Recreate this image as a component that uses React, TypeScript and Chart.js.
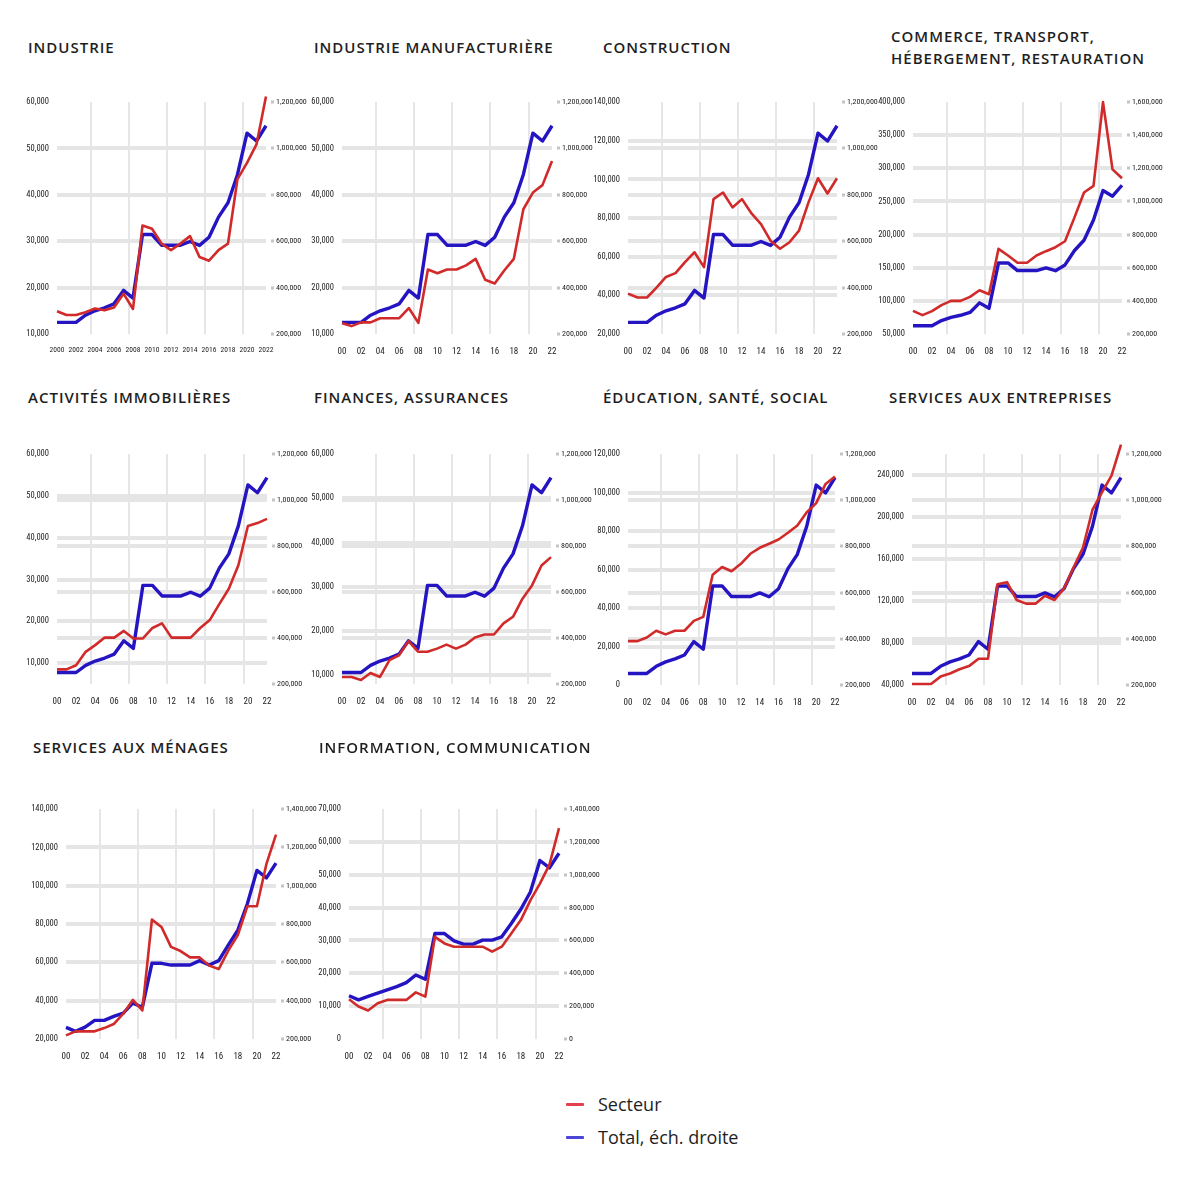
import React, { useEffect, useRef } from "react";
import { Chart, registerables } from "chart.js";

Chart.register(...registerables);

const YEARS = [2000, 2001, 2002, 2003, 2004, 2005, 2006, 2007, 2008, 2009, 2010, 2011, 2012, 2013, 2014, 2015, 2016, 2017, 2018, 2019, 2020, 2021, 2022];
const TICK_YEARS = [2000, 2002, 2004, 2006, 2008, 2010, 2012, 2014, 2016, 2018, 2020, 2022];
const VGRID_YEARS = [2003.55, 2007.55, 2011.55, 2015.55, 2019.55];

// Total (right scale), as read in each group of panels
const TOTAL = [250000, 250000, 250000, 281000, 300000, 313000, 330000, 388000, 355000, 629000, 629000, 583000, 583000, 583000, 599000, 582000, 617000, 704000, 766000, 888000, 1066000, 1032000, 1098000];
const TOTAL_MENAGES = [261000, 240000, 262000, 297000, 297000, 318000, 335000, 387000, 366000, 595000, 595000, 586000, 586000, 586000, 609000, 586000, 609000, 690000, 768000, 906000, 1080000, 1041000, 1118000];
const TOTAL_INFO = [263000, 238000, 259000, 279000, 299000, 319000, 343000, 390000, 364000, 642000, 642000, 598000, 578000, 578000, 602000, 602000, 622000, 703000, 790000, 895000, 1087000, 1042000, 1131000];

// Secteur (left scale)
const INDUSTRIE = [14900, 14100, 14100, 14700, 15500, 15100, 15700, 18700, 15400, 33400, 32700, 29500, 28100, 29500, 31100, 26600, 25800, 28100, 29500, 43400, 46900, 50900, 61200];
const MANUFACTURIERE = [12300, 11700, 12500, 12500, 13400, 13400, 13400, 15600, 12400, 23900, 23100, 23900, 23900, 24800, 26200, 21700, 20900, 23700, 26200, 36900, 40500, 42100, 47300];
const CONSTRUCTION = [40900, 38900, 38900, 44000, 49500, 51500, 57200, 62300, 54600, 89800, 93200, 85500, 89800, 82400, 76900, 68300, 64100, 67500, 73500, 88100, 100600, 92700, 100600];
const COMMERCE = [85000, 78500, 84500, 93500, 100000, 100000, 106000, 116000, 110000, 178500, 168500, 157500, 157500, 168500, 175000, 181000, 190000, 226000, 263500, 273500, 400000, 298500, 285000];
const IMMOBILIER = [8500, 8500, 9500, 12700, 14300, 16100, 16100, 17700, 15900, 15900, 18400, 19500, 16100, 16100, 16100, 18400, 20300, 24100, 27800, 33400, 42800, 43500, 44500];
const FINANCES = [9600, 9600, 8900, 10500, 9600, 13400, 14500, 17700, 15300, 15300, 16000, 16900, 16000, 16900, 18500, 19200, 19200, 21700, 23200, 27300, 30300, 34800, 36700];
const EDUCATION = [22800, 22800, 24700, 28200, 26300, 28200, 28200, 33300, 35400, 57300, 61300, 59100, 63000, 68200, 71300, 73400, 75600, 79100, 82900, 89800, 94500, 104500, 108300];
const ENTREPRISES = [41000, 41000, 41000, 48000, 51000, 55000, 58000, 65000, 65000, 136000, 138000, 121000, 117500, 117500, 125000, 121000, 132000, 152000, 171000, 207000, 223500, 239500, 269000];
const MENAGES = [21900, 24000, 24000, 24000, 25700, 27800, 33200, 40400, 34900, 82300, 78500, 68100, 65900, 62600, 62600, 58300, 56500, 66100, 74200, 89300, 89300, 111400, 126700];
const INFORMATION = [12100, 9900, 8700, 10900, 11900, 11900, 11900, 14200, 12900, 31100, 29100, 28100, 28100, 28100, 28100, 26600, 28100, 32100, 36200, 42200, 47300, 53100, 64200];

// Tick values
const L_10_60 = [10000, 20000, 30000, 40000, 50000, 60000];
const L_20_140 = [20000, 40000, 60000, 80000, 100000, 120000, 140000];
const L_50_400 = [50000, 100000, 150000, 200000, 250000, 300000, 350000, 400000];
const L_0_120 = [0, 20000, 40000, 60000, 80000, 100000, 120000];
const L_40_240 = [40000, 80000, 120000, 160000, 200000, 240000];
const L_0_70 = [0, 10000, 20000, 30000, 40000, 50000, 60000, 70000];
const R_200_1200 = [200000, 400000, 600000, 800000, 1000000, 1200000];
const R_200_1600 = [200000, 400000, 600000, 800000, 1000000, 1200000, 1400000, 1600000];
const R_200_1400 = [200000, 400000, 600000, 800000, 1000000, 1200000, 1400000];
const R_0_1400 = [0, 200000, 400000, 600000, 800000, 1000000, 1200000, 1400000];

const RED = "#d12a2a";
const BLUE = "#2414c2";
const TICK_COLOR = "#222";
const TICK_FONT = "'Roboto Condensed', 'Liberation Sans Narrow', sans-serif";
const TITLE_FONT = "'Open Sans', 'Noto Sans', sans-serif";

type PanelDef = {
  title: string[];
  tx: number;
  ty: number;
  L: number;
  R: number;
  T: number;
  B: number;
  sector: number[];
  total: number[];
  yMin: number;
  yMax: number;
  yTicks: number[];
  rMin: number;
  rMax: number;
  rTicks: number[];
  fullYears?: boolean;
};

const PANELS: PanelDef[] = [
  { title: ["INDUSTRIE"], tx: 28, ty: 47, L: 57, R: 266, T: 101, B: 334, sector: INDUSTRIE, total: TOTAL, yMin: 10000, yMax: 60000, yTicks: L_10_60, rMin: 200000, rMax: 1200000, rTicks: R_200_1200, fullYears: true },
  { title: ["INDUSTRIE MANUFACTURIÈRE"], tx: 314, ty: 47, L: 342, R: 552, T: 101, B: 334, sector: MANUFACTURIERE, total: TOTAL, yMin: 10000, yMax: 60000, yTicks: L_10_60, rMin: 200000, rMax: 1200000, rTicks: R_200_1200 },
  { title: ["CONSTRUCTION"], tx: 603, ty: 47, L: 628, R: 837, T: 101, B: 334, sector: CONSTRUCTION, total: TOTAL, yMin: 20000, yMax: 140000, yTicks: L_20_140, rMin: 200000, rMax: 1200000, rTicks: R_200_1200 },
  { title: ["COMMERCE, TRANSPORT,", "HÉBERGEMENT, RESTAURATION"], tx: 891, ty: 36, L: 913, R: 1122, T: 101, B: 334, sector: COMMERCE, total: TOTAL, yMin: 50000, yMax: 400000, yTicks: L_50_400, rMin: 200000, rMax: 1600000, rTicks: R_200_1600 },
  { title: ["ACTIVITÉS IMMOBILIÈRES"], tx: 28, ty: 397, L: 57, R: 267, T: 453, B: 684, sector: IMMOBILIER, total: TOTAL, yMin: 5000, yMax: 60000, yTicks: L_10_60, rMin: 200000, rMax: 1200000, rTicks: R_200_1200 },
  { title: ["FINANCES, ASSURANCES"], tx: 314, ty: 397, L: 342, R: 551, T: 453, B: 684, sector: FINANCES, total: TOTAL, yMin: 8000, yMax: 60000, yTicks: L_10_60, rMin: 200000, rMax: 1200000, rTicks: R_200_1200 },
  { title: ["ÉDUCATION, SANTÉ, SOCIAL"], tx: 603, ty: 397, L: 628, R: 835, T: 453, B: 685, sector: EDUCATION, total: TOTAL, yMin: 0, yMax: 120000, yTicks: L_0_120, rMin: 200000, rMax: 1200000, rTicks: R_200_1200 },
  { title: ["SERVICES AUX ENTREPRISES"], tx: 889, ty: 397, L: 912, R: 1121, T: 453, B: 685, sector: ENTREPRISES, total: TOTAL, yMin: 40000, yMax: 260000, yTicks: L_40_240, rMin: 200000, rMax: 1200000, rTicks: R_200_1200 },
  { title: ["SERVICES AUX MÉNAGES"], tx: 33, ty: 747, L: 66, R: 276, T: 808, B: 1039, sector: MENAGES, total: TOTAL_MENAGES, yMin: 20000, yMax: 140000, yTicks: L_20_140, rMin: 200000, rMax: 1400000, rTicks: R_200_1400 },
  { title: ["INFORMATION, COMMUNICATION"], tx: 319, ty: 747, L: 349, R: 559, T: 808, B: 1039, sector: INFORMATION, total: TOTAL_INFO, yMin: 0, yMax: 70000, yTicks: L_0_70, rMin: 0, rMax: 1400000, rTicks: R_0_1400 },
];

const LW = 40;
const RW = 46;
const TOP = 12;
const XH = 22;

const fmt = (v: number) => Number(v).toLocaleString("en-US");

function Panel({ p }: { p: PanelDef }) {
  const ref = useRef<HTMLCanvasElement | null>(null);
  const plotW = p.R - p.L;
  const plotH = p.B - p.T;
  const cw = LW + plotW + RW;
  const ch = TOP + plotH + XH;

  useEffect(() => {
    if (!ref.current) return;
    const gridColor = (min: number, max: number) => (ctx: any) => {
      const v = ctx.tick ? ctx.tick.value : null;
      return v === min || v === max ? "rgba(0,0,0,0)" : "#e5e5e5";
    };
    const chart = new Chart(ref.current, {
      type: "line",
      data: {
        datasets: [
          {
            label: "Secteur",
            data: p.sector.map((v, i) => ({ x: YEARS[i], y: v })),
            yAxisID: "y",
            xAxisID: "x",
            borderColor: RED,
            backgroundColor: RED,
            borderWidth: 2.6,
            pointRadius: 0,
            tension: 0,
            clip: false,
            borderJoinStyle: "round",
          },
          {
            label: "Total, éch. droite",
            data: p.total.map((v, i) => ({ x: YEARS[i], y: v })),
            yAxisID: "y1",
            xAxisID: "x",
            borderColor: BLUE,
            backgroundColor: BLUE,
            borderWidth: 3.4,
            pointRadius: 0,
            tension: 0,
            clip: false,
            borderJoinStyle: "round",
          },
        ],
      },
      options: {
        animation: false,
        responsive: false,
        events: [],
        layout: { padding: { top: TOP, left: 0, right: 0, bottom: 0 } },
        plugins: { legend: { display: false }, tooltip: { enabled: false }, title: { display: false } },
        scales: {
          x: {
            type: "linear",
            position: "bottom",
            min: 2000,
            max: 2022,
            afterBuildTicks: (s: any) => {
              s.ticks = TICK_YEARS.map((v) => ({ value: v }));
            },
            afterFit: (s: any) => {
              s.height = XH;
            },
            grid: { display: false },
            border: { display: false },
            ticks: {
              autoSkip: false,
              maxRotation: 0,
              padding: 4,
              color: TICK_COLOR,
              font: { family: TICK_FONT, size: p.fullYears ? 7.5 : 9 },
              callback: (v: any) => (p.fullYears ? String(v) : String(v).slice(2)),
            },
          },
          xg: {
            type: "linear",
            position: "top",
            min: 2000,
            max: 2022,
            afterBuildTicks: (s: any) => {
              s.ticks = VGRID_YEARS.map((v) => ({ value: v }));
            },
            afterFit: (s: any) => {
              s.height = 0;
            },
            grid: { color: "#e6e6e6", lineWidth: 2, drawTicks: false },
            border: { display: false },
            ticks: { display: false },
          },
          y: {
            type: "linear",
            position: "left",
            min: p.yMin,
            max: p.yMax,
            afterBuildTicks: (s: any) => {
              s.ticks = p.yTicks.map((v) => ({ value: v }));
            },
            afterFit: (s: any) => {
              s.width = LW;
            },
            grid: { color: gridColor(p.yMin, p.yMax), lineWidth: 4, drawTicks: false },
            border: { display: false },
            ticks: {
              padding: 8,
              color: TICK_COLOR,
              font: { family: TICK_FONT, size: 8.5 },
              callback: (v: any) => fmt(v),
            },
          },
          y1: {
            type: "linear",
            position: "right",
            min: p.rMin,
            max: p.rMax,
            afterBuildTicks: (s: any) => {
              s.ticks = p.rTicks.map((v) => ({ value: v }));
            },
            afterFit: (s: any) => {
              s.width = RW;
            },
            grid: {
              color: gridColor(p.rMin, p.rMax),
              lineWidth: 4,
              drawTicks: true,
              tickLength: 9,
              tickWidth: 3,
              tickColor: "#c4c4c4",
              tickBorderDash: [0, 5, 3, 60],
            },
            border: { display: false },
            ticks: {
              padding: 1,
              color: TICK_COLOR,
              font: { family: TICK_FONT, size: 8 },
              callback: (v: any) => fmt(v),
            },
          },
        },
      } as any,
    });
    return () => chart.destroy();
  }, []);

  return (
    <>
      <div
        style={{
          position: "absolute",
          left: p.tx,
          top: p.ty - 11,
          fontFamily: TITLE_FONT,
          fontWeight: 600,
          fontSize: 15,
          lineHeight: "22px",
          letterSpacing: "1px",
          color: "#1e1e1e",
          whiteSpace: "nowrap",
        }}
      >
        {p.title.map((t, i) => (
          <div key={i}>{t}</div>
        ))}
      </div>
      <canvas
        ref={ref}
        width={cw}
        height={ch}
        style={{ position: "absolute", left: p.L - LW, top: p.T - TOP, width: cw, height: ch }}
      />
    </>
  );
}

const LEGEND = [
  { label: "Secteur", color: "#e2404c", y: 1104 },
  { label: "Total, éch. droite", color: "#4b45d8", y: 1137 },
];

export default function App() {
  return (
    <div style={{ position: "absolute", left: 0, top: 0, width: 1200, height: 1200, background: "#fff", overflow: "hidden" }}>
      {PANELS.map((p, i) => (
        <Panel key={i} p={p} />
      ))}
      {LEGEND.map((l, i) => (
        <React.Fragment key={i}>
          <div style={{ position: "absolute", left: 566, top: l.y - 1.5, width: 18, height: 3, background: l.color, borderRadius: 1 }} />
          <div
            style={{
              position: "absolute",
              left: 598,
              top: l.y - 13,
              fontFamily: TITLE_FONT,
              fontSize: 18,
              lineHeight: "26px",
              color: "#1e1e1e",
              whiteSpace: "nowrap",
            }}
          >
            {l.label}
          </div>
        </React.Fragment>
      ))}
    </div>
  );
}
